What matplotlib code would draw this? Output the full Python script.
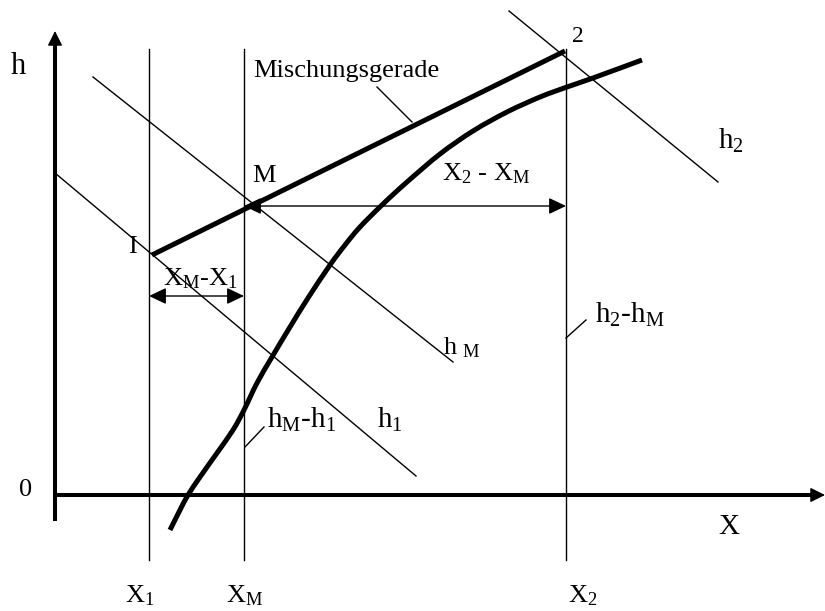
import matplotlib
matplotlib.use("Agg")
import matplotlib.pyplot as plt
from matplotlib.path import Path
from matplotlib.patches import PathPatch

plt.rcParams['font.family'] = ['Liberation Serif', 'DejaVu Serif']
plt.rcParams['mathtext.fontset'] = 'custom'
plt.rcParams['mathtext.rm'] = 'Liberation Serif'
plt.rcParams['mathtext.it'] = 'Liberation Serif:italic'
plt.rcParams['mathtext.bf'] = 'Liberation Serif:bold'

# ---- diagram values (diagram units, origin at axis crossing) ----
vline_x = [94, 189, 511]                 # X1, XM, X2
vline_labels = [r'$\mathrm{X}_{1}$', r'$\mathrm{X}_{\mathrm{M}}$', r'$\mathrm{X}_{2}$']
vline_label_x = [85, 190, 528]
vline_top = 446
vline_bottom = -65

# isenthalps h1, hM, h2 (start/end)
h_lines_x = [[0, 361], [38, 398], [454, 663]]
h_lines_y = [[322, 19], [418, 133], [484, 313]]

# mixing line from state 1 to state 2
mix_x = [97, 510]
mix_y = [240, 444]

# saturation curve
curve_x = [115, 125, 133, 145, 162, 178, 189, 202, 217, 235, 253, 275, 290,
           305, 328, 352, 385, 418, 452, 485, 512, 538, 587]
curve_y = [-35, -15, 0, 18, 42, 65, 85, 112, 138, 168, 197, 230, 250,
           268, 291, 313, 341, 364, 383, 398, 408, 417, 435]

# dimension arrows
arrow_xm_x2 = [189, 511, 289]   # x from, x to, y
arrow_x1_xm = [94, 189, 199]

fig = plt.figure(figsize=(8.25, 6.11), dpi=100)
ax = fig.add_axes([0, 0, 1, 1])
ax.set_xlim(-55, 770)
ax.set_ylim(-116, 495)
ax.axis('off')

K = 'black'

# axes
ax.plot([0, 0], [-26, 452], color=K, lw=2.9, solid_capstyle='butt')
ax.annotate('', xy=(0, 464), xytext=(0, 448),
            arrowprops=dict(arrowstyle='-|>,head_length=0.9,head_width=0.45',
                            lw=1, color=K, shrinkA=0, shrinkB=0, mutation_scale=10))
ax.plot([0, 758], [0, 0], color=K, lw=2.9, solid_capstyle='butt')
ax.annotate('', xy=(770, 0), xytext=(755, 0),
            arrowprops=dict(arrowstyle='-|>,head_length=0.9,head_width=0.45',
                            lw=1, color=K, shrinkA=0, shrinkB=0, mutation_scale=10))

# vertical lines
for vx, lab, lx in zip(vline_x, vline_labels, vline_label_x):
    ax.plot([vx, vx], [vline_bottom, vline_top], color=K, lw=1.0)
    ax.text(lx, -101, lab, fontsize=19, ha='center', va='center')

# isenthalps
for xs, ys in zip(h_lines_x, h_lines_y):
    ax.plot(xs, ys, color=K, lw=1.0)

# mixing line
ax.plot(mix_x, mix_y, color=K, lw=3.6, solid_capstyle='butt')

# curve: smooth Bezier path through the read points (Catmull-Rom tangents)
verts = [(curve_x[0], curve_y[0])]
codes = [Path.MOVETO]
n = len(curve_x)
for i in range(n - 1):
    x0, y0 = curve_x[max(i - 1, 0)], curve_y[max(i - 1, 0)]
    x1, y1 = curve_x[i], curve_y[i]
    x2, y2 = curve_x[i + 1], curve_y[i + 1]
    x3, y3 = curve_x[min(i + 2, n - 1)], curve_y[min(i + 2, n - 1)]
    c1 = (x1 + (x2 - x0) / 6.0, y1 + (y2 - y0) / 6.0)
    c2 = (x2 - (x3 - x1) / 6.0, y2 - (y3 - y1) / 6.0)
    verts += [c1, c2, (x2, y2)]
    codes += [Path.CURVE4] * 3
ax.add_patch(PathPatch(Path(verts, codes), facecolor='none', edgecolor=K,
                       lw=3.6, capstyle='butt', joinstyle='round'))

# dimension arrows
ap = dict(arrowstyle='<|-|>,head_length=1.05,head_width=0.5', lw=1.0, color=K,
          shrinkA=0, shrinkB=0, mutation_scale=10)
ax.annotate('', xy=(arrow_xm_x2[1], arrow_xm_x2[2]),
            xytext=(arrow_xm_x2[0], arrow_xm_x2[2]), arrowprops=ap)
ax.annotate('', xy=(arrow_x1_xm[1], arrow_x1_xm[2]),
            xytext=(arrow_x1_xm[0], arrow_x1_xm[2]), arrowprops=ap)

# leader lines
ax.plot([322, 357], [408, 373], color=K, lw=1.0)
ax.plot([511, 531], [157, 175], color=K, lw=1.0)
ax.plot([190, 209], [48, 68], color=K, lw=1.0)

# texts
ax.text(-37, 428, 'h', fontsize=22, ha='center', va='center')
ax.text(-29, 5, '0', fontsize=19, ha='center', va='center')
ax.text(674, -32, 'X', fontsize=21, ha='center', va='center')
ax.text(198, 418, 'Mischungsgerade', fontsize=19, ha='left', va='baseline')
ax.text(197, 313, 'M', fontsize=19, ha='left', va='baseline')
ax.text(73, 242, 'I', fontsize=19, ha='left', va='baseline')
ax.text(517, 453, '2', fontsize=17, ha='left', va='baseline')
ax.text(663, 346, r'$\mathrm{h}_{2}$', fontsize=21, ha='left', va='baseline')
ax.text(387, 315, r'$\mathrm{X}_{2}$ - $\mathrm{X}_{\mathrm{M}}$', fontsize=19,
        ha='left', va='baseline')
ax.text(108, 210, r'$\mathrm{X}_{\mathrm{M}}$-$\mathrm{X}_{1}$', fontsize=19,
        ha='left', va='baseline')
ax.text(388, 141, r'h $\mathrm{_{M}}$', fontsize=19, ha='left', va='baseline')
ax.text(540, 172, r'$\mathrm{h}_{2}$-$\mathrm{h}_{\mathrm{M}}$', fontsize=21,
        ha='left', va='baseline')
ax.text(212, 67, r'$\mathrm{h}_{\mathrm{M}}$-$\mathrm{h}_{1}$', fontsize=21,
        ha='left', va='baseline')
ax.text(322, 67, r'$\mathrm{h}_{1}$', fontsize=21, ha='left', va='baseline')

fig.savefig('out.png', dpi=100)
